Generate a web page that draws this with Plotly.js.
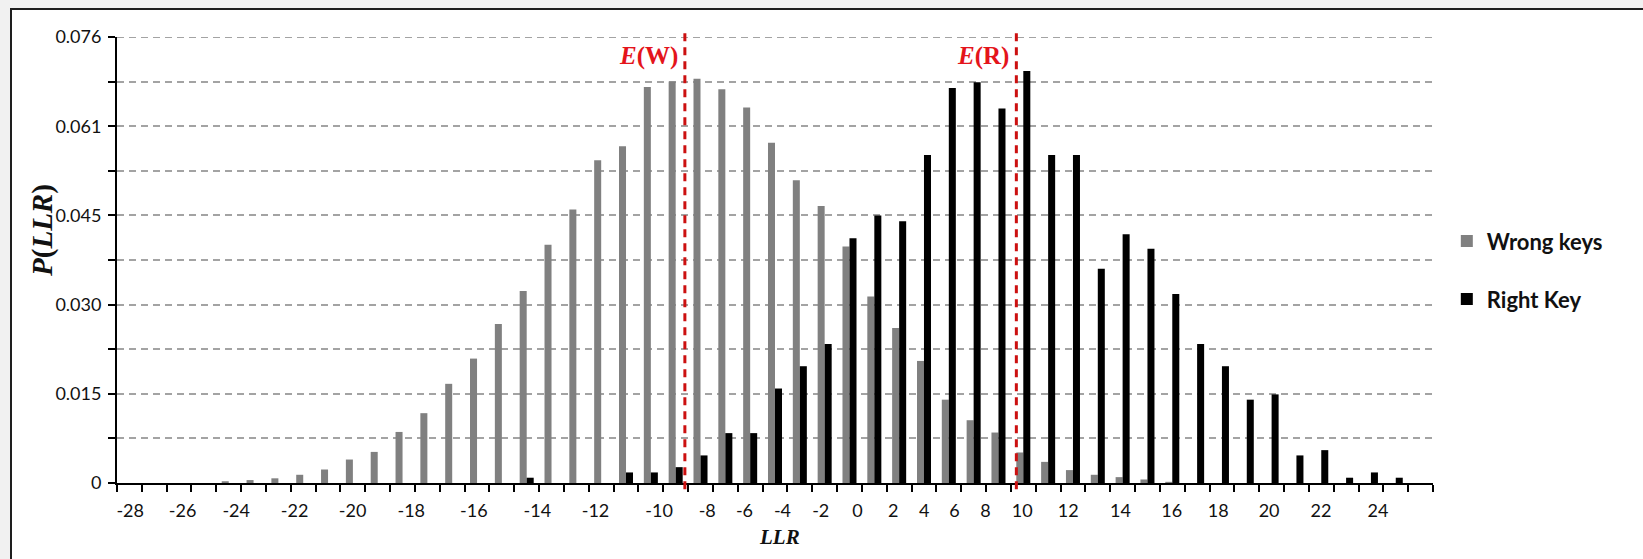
<!DOCTYPE html>
<html>
<head>
<meta charset="utf-8">
<script src="https://cdn.plot.ly/plotly-3.0.1.min.js"></script>
<style>
  html, body { margin: 0; padding: 0; width: 1643px; height: 559px; overflow: hidden; background: #f1f1f1; }
  #frame { position: absolute; left: 10px; top: 8px; width: 1633px; height: 551px; background: #ffffff;
           border-top: 2px solid #1e1e1e; border-left: 2px solid #1e1e1e; }
  #chart { position: absolute; left: 0; top: 0; width: 1643px; height: 559px; }
</style>
</head>
<body>
<div id="frame"></div>
<div id="chart"></div>
<script>
// Probability of each LLR bin (53 bins, left to right)
const wrongKeys = [
  0, 0, 0, 0, 0.0003, 0.0005, 0.0008, 0.0014, 0.0023, 0.0040,
  0.0053, 0.0087, 0.0119, 0.0169, 0.0212, 0.0271, 0.0327, 0.0406, 0.0466, 0.0550,
  0.0574, 0.0675, 0.0684, 0.0689, 0.0671, 0.0640, 0.0580, 0.0516, 0.0472, 0.0403,
  0.0318, 0.0264, 0.0208, 0.0142, 0.0107, 0.0086, 0.0052, 0.0036, 0.0022, 0.0014,
  0.0010, 0.0006, 0.0002, 0, 0, 0, 0, 0, 0, 0,
  0, 0, 0
];
const rightKey = [
  0, 0, 0, 0, 0, 0, 0, 0, 0, 0,
  0, 0, 0, 0, 0, 0, 0.0009, 0, 0, 0,
  0.0018, 0.0018, 0.0027, 0.0047, 0.0085, 0.0085, 0.0161, 0.0199, 0.0237, 0.0417,
  0.0456, 0.0446, 0.0559, 0.0673, 0.0683, 0.0638, 0.0702, 0.0559, 0.0559, 0.0365,
  0.0424, 0.0399, 0.0322, 0.0237, 0.0199, 0.0142, 0.0151, 0.0047, 0.0056, 0.0009,
  0.0018, 0.0009, 0
];
const seriesNames = ['Wrong keys', 'Right Key'];

// x-axis labels and where they sit along the bin index scale
const xTickLabels = ['-28','-26','-24','-22','-20','-18','-16','-14','-12','-10','-8','-6','-4','-2',
                     '0','2','4','6','8','10','12','14','16','18','20','22','24'];
const xTickAt = [0.03, 2.14, 4.30, 6.65, 8.99, 11.35, 13.87, 16.43, 18.77, 21.33, 23.27, 24.77, 26.30, 27.84,
                 29.32, 30.76, 32.01, 33.23, 34.48, 35.96, 37.81, 39.91, 41.98, 43.85, 45.90, 47.99, 50.28];

// y-axis tick values (gridlines) and labels
const yTickVals = [0, 0.0076, 0.0152, 0.0228, 0.0304, 0.038, 0.0456, 0.0532, 0.0608, 0.0684, 0.076];
const yTickLabels = ['0', '', '0.015', '', '0.030', '', '0.045', '', '0.061', '', '0.076'];

// expected values marked by vertical lines (on the bin index scale)
const expectLabels = ['E(W)', 'E(R)'];
const expectAt = [22.37, 35.72];

const binIndex = wrongKeys.map((_, i) => i);

const traces = [
  { type: 'bar', name: seriesNames[0], x: binIndex, y: wrongKeys, marker: { color: '#808080' }, legend: 'legend', showlegend: true },
  { type: 'bar', name: seriesNames[1], x: binIndex, y: rightKey, marker: { color: '#000000' }, legend: 'legend2', showlegend: true }
];

const gridStyle = { color: '#a3a3a3', width: 2, dash: '7px,5px' };
const red = '#e4141b';
const shapes = expectAt.map(v => ({
  type: 'line', xref: 'x', yref: 'paper', x0: v, x1: v, y0: -0.014, y1: 1.009,
  line: { color: '#cc1010', width: 3, dash: '8px,6px' }, layer: 'above'
}));
// top gridline (at the edge of the range, which Plotly does not draw itself)
shapes.push({
  type: 'line', xref: 'paper', yref: 'y', x0: 0, x1: 1,
  y0: yTickVals[yTickVals.length - 1], y1: yTickVals[yTickVals.length - 1],
  line: gridStyle, layer: 'below'
});

const annotations = expectLabels.map((t, i) => ({
  xref: 'x', yref: 'paper', x: expectAt[i], y: 0.957, xanchor: 'right', yanchor: 'middle', xshift: -5,
  showarrow: false,
  text: '<b><i>' + t.charAt(0) + '</i>' + t.slice(1) + '</b>',
  font: { family: 'Liberation Serif', size: 25, color: red }
}));
annotations.push({
  xref: 'paper', yref: 'paper', x: -0.0567, y: 0.566, xanchor: 'center', yanchor: 'middle', textangle: -90,
  showarrow: false, text: '<b><i>P</i>(<i>LLR</i>)</b>',
  font: { family: 'Liberation Serif', size: 29, color: '#111111' }
});
annotations.push({
  xref: 'paper', yref: 'paper', x: 0.5034, y: -0.121, xanchor: 'center', yanchor: 'middle',
  showarrow: false, text: '<b><i>LLR</i></b>',
  font: { family: 'Liberation Serif', size: 21, color: '#111111' }
});

const legendCommon = {
  xanchor: 'left', yanchor: 'middle', bgcolor: 'rgba(0,0,0,0)', borderwidth: 0, visible: true,
  font: { family: 'Lato', size: 22, color: '#111111', weight: 'bold' }
};

const layout = {
  width: 1643, height: 559,
  showlegend: true,
  margin: { l: 117, r: 210, t: 37, b: 76, pad: 0 },
  paper_bgcolor: 'rgba(0,0,0,0)', plot_bgcolor: 'rgba(0,0,0,0)',
  barmode: 'group', bargap: 0.435, bargroupgap: 0,
  font: { family: 'Lato', size: 18, color: '#111111' },
  xaxis: {
    type: 'linear', range: [-0.5, 52.5], fixedrange: true,
    tickmode: 'array', tickvals: xTickAt, ticktext: xTickLabels,
    ticks: 'outside', ticklen: 7, tickcolor: 'rgba(0,0,0,0)', ticklabelstandoff: 3,
    tickfont: { family: 'Lato', size: 18, color: '#111111' },
    minor: { tick0: -0.5, dtick: 1, ticks: 'outside', ticklen: 7, tickwidth: 2, tickcolor: '#000000', showgrid: false },
    showline: true, linecolor: '#000000', linewidth: 2,
    showgrid: false, zeroline: false
  },
  yaxis: {
    range: [0, 0.076], fixedrange: true,
    tickmode: 'array', tickvals: yTickVals, ticktext: yTickLabels,
    ticks: 'outside', ticklen: 7, tickwidth: 2, tickcolor: '#000000', ticklabelstandoff: 3,
    tickfont: { family: 'Lato', size: 18, color: '#111111' },
    showline: true, linecolor: '#000000', linewidth: 2,
    showgrid: true, gridcolor: gridStyle.color, gridwidth: gridStyle.width, griddash: gridStyle.dash,
    zeroline: false
  },
  legend: Object.assign({ x: 1.0105, y: 0.542 }, legendCommon),
  legend2: Object.assign({ x: 1.0105, y: 0.412 }, legendCommon),
  shapes: shapes,
  annotations: annotations
};

Plotly.newPlot('chart', traces, layout, { displayModeBar: false, staticPlot: true });
</script>
</body>
</html>
